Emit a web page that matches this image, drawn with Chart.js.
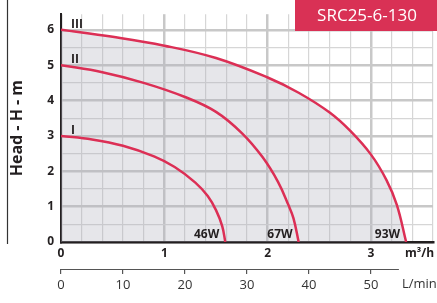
<!DOCTYPE html>
<html>
<head>
<meta charset="utf-8">
<script src="https://cdn.jsdelivr.net/npm/chart.js@4.4.0/dist/chart.umd.min.js"></script>
<style>
  html, body { margin: 0; padding: 0; background: #fff; }
</style>
</head>
<body>
<canvas id="pumpChart" width="437" height="303"></canvas>
<script>
// Dados (vazão em m3/h, altura em m)
const curveNames = ['I', 'II', 'III'];
const powerLabels = ['46W', '67W', '93W'];
const flowI = [0, 0.3, 0.6, 0.9, 1.1, 1.3, 1.42, 1.5, 1.56, 1.59];
const headI = [3.0, 2.90, 2.72, 2.42, 2.12, 1.68, 1.30, 0.90, 0.45, 0];
const flowII = [0, 0.4, 0.8, 1.2, 1.5, 1.75, 1.95, 2.1, 2.2, 2.25, 2.30];
const headII = [5.0, 4.80, 4.50, 4.10, 3.68, 3.08, 2.40, 1.70, 1.05, 0.67, 0];
const flowIII = [0, 0.5, 1.0, 1.5, 2.0, 2.3, 2.6, 2.8, 3.0, 3.15, 3.25, 3.34];
const headIII = [6.0, 5.80, 5.55, 5.20, 4.65, 4.22, 3.66, 3.14, 2.47, 1.75, 1.05, 0];
const xTickLabels = ['0', '1', '2', '3'];
const yTickLabels = ['0', '1', '2', '3', '4', '5', '6'];
const lminTicks = [0, 10, 20, 30, 40, 50];
const modelName = 'SRC25-6-130';

const red = '#dc2f55';
const dark = '#231f20';

function toPoints(xs, ys) {
    return xs.map((x, i) => ({ x: x, y: ys[i] }));
}

function isMajor(v) {
    return Math.abs(v - Math.round(v)) < 1e-6;
}

// Textos extras: nomes das curvas, potências, unidades e caixa do modelo
const extrasPlugin = {
    id: 'extras',
    afterDatasetsDraw(chart) {
        const ctx = chart.ctx;
        ctx.save();
        ctx.fillStyle = dark;
        ctx.font = 'bold 12px "Open Sans"';
        chart.data.datasets.forEach((ds, i) => {
            const pts = chart.getDatasetMeta(i).data;
            const first = pts[0];
            const last = pts[pts.length - 1];
            ctx.textAlign = 'left';
            ctx.textBaseline = 'alphabetic';
            ctx.fillText(curveNames[i], first.x + 10, first.y - 2);
            ctx.textAlign = 'right';
            ctx.fillText(powerLabels[i], last.x - 6, last.y - 4);
        });
        ctx.restore();
    },
    afterDraw(chart) {
        const ctx = chart.ctx;
        const x = chart.scales.x;
        const x2 = chart.scales.x2;
        ctx.save();
        // linha vertical à esquerda
        ctx.strokeStyle = '#333';
        ctx.lineWidth = 1.2;
        ctx.beginPath();
        ctx.moveTo(7.5, 0);
        ctx.lineTo(7.5, 244);
        ctx.stroke();
        // eixo L/min
        ctx.strokeStyle = '#555';
        ctx.lineWidth = 1.2;
        ctx.beginPath();
        ctx.moveTo(x2.getPixelForValue(0) - 0.5, x2.top + 0.5);
        ctx.lineTo(x2.getPixelForValue(54.5), x2.top + 0.5);
        ctx.stroke();
        // unidades
        ctx.fillStyle = dark;
        ctx.font = 'bold 12px "Open Sans"';
        ctx.textAlign = 'left';
        ctx.textBaseline = 'middle';
        ctx.fillText('m³/h', x.right - 28, 254);
        ctx.font = '13px "Open Sans"';
        ctx.fillStyle = '#333';
        ctx.fillText('L/min', x.right - 31, 284);
        // caixa do modelo
        ctx.fillStyle = '#d93155';
        ctx.fillRect(295, 0, chart.width - 295, 31);
        ctx.fillStyle = '#fff';
        ctx.font = '17px "Open Sans"';
        ctx.textAlign = 'center';
        ctx.fillText(modelName, 367, 16);
        ctx.restore();
    }
};

const lineStyle = {
    borderColor: red,
    borderWidth: 2.5,
    pointRadius: 0,
    showLine: true,
    tension: 0.4,
    fill: false
};

new Chart(document.getElementById('pumpChart').getContext('2d'), {
    type: 'scatter',
    data: {
        datasets: [
            Object.assign({ label: curveNames[0], data: toPoints(flowI, headI) }, lineStyle),
            Object.assign({ label: curveNames[1], data: toPoints(flowII, headII) }, lineStyle),
            Object.assign({ label: curveNames[2], data: toPoints(flowIII, headIII) }, lineStyle,
                { fill: 'origin', backgroundColor: 'rgba(175,175,188,0.31)' })
        ]
    },
    options: {
        responsive: false,
        animation: false,
        devicePixelRatio: 1,
        layout: { padding: 0 },
        plugins: {
            legend: { display: false },
            tooltip: { enabled: false },
            filler: { drawTime: 'beforeDatasetsDraw' }
        },
        scales: {
            x: {
                type: 'linear',
                position: 'bottom',
                min: 0,
                max: 3.6,
                afterBuildTicks: s => {
                    s.ticks = Array.from({ length: 19 }, (_, i) => ({ value: i * 0.2 }));
                },
                afterFit: s => { s.height = 27; },
                grid: {
                    drawTicks: false,
                    color: c => isMajor(c.tick.value) ? '#c8c8c8' : '#d6d6d6',
                    lineWidth: c => isMajor(c.tick.value) ? 2.5 : 1.2
                },
                border: { color: dark, width: 2.5 },
                ticks: {
                    autoSkip: false,
                    maxRotation: 0,
                    padding: 4,
                    color: dark,
                    font: { family: 'Open Sans', size: 12, weight: 'bold' },
                    callback: v => isMajor(v) && xTickLabels[Math.round(v)] !== undefined ? xTickLabels[Math.round(v)] : ''
                }
            },
            x2: {
                type: 'linear',
                position: 'bottom',
                min: 0,
                max: 60,
                afterBuildTicks: s => {
                    s.ticks = lminTicks.map(v => ({ value: v }));
                },
                afterFit: s => { s.height = 34; },
                border: { display: false },
                grid: {
                    drawOnChartArea: false,
                    drawTicks: true,
                    tickLength: 5,
                    color: '#555',
                    lineWidth: 1.2
                },
                ticks: {
                    autoSkip: false,
                    maxRotation: 0,
                    padding: 3,
                    color: '#333',
                    font: { family: 'Open Sans', size: 13 }
                }
            },
            y: {
                type: 'linear',
                min: 0,
                max: 6.44,
                afterBuildTicks: s => {
                    s.ticks = Array.from({ length: 13 }, (_, i) => ({ value: i * 0.5 }));
                },
                afterFit: s => { s.width = 61; },
                grid: {
                    drawTicks: false,
                    color: c => isMajor(c.tick.value) ? '#c8c8c8' : '#d6d6d6',
                    lineWidth: c => isMajor(c.tick.value) ? 2.5 : 1.2
                },
                border: { color: dark, width: 2 },
                title: {
                    display: true,
                    text: 'Head - H - m',
                    color: dark,
                    font: { family: 'Open Sans', size: 16, weight: 'bold' },
                    padding: { top: 8, bottom: 0 }
                },
                ticks: {
                    autoSkip: false,
                    padding: 7,
                    color: dark,
                    font: { family: 'Open Sans', size: 12, weight: 'bold' },
                    callback: v => isMajor(v) && yTickLabels[Math.round(v)] !== undefined ? yTickLabels[Math.round(v)] : ''
                }
            }
        }
    },
    plugins: [extrasPlugin]
});
</script>
</body>
</html>
